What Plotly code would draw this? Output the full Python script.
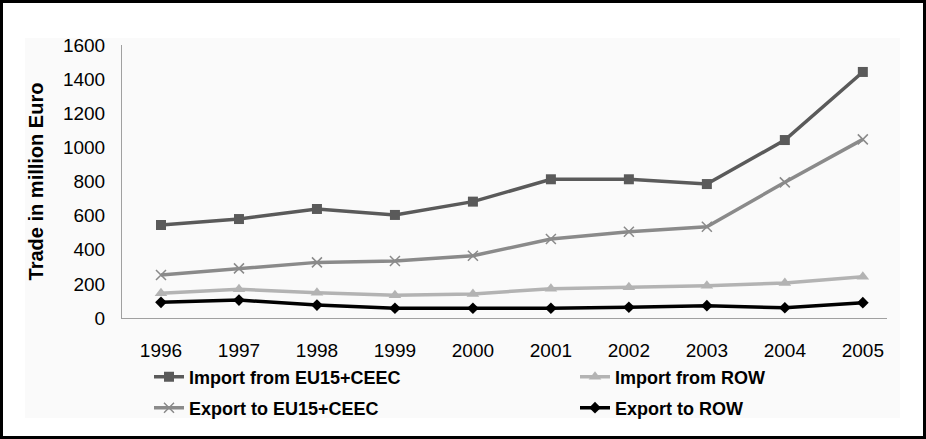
import plotly.graph_objects as go

years = ["1996", "1997", "1998", "1999", "2000", "2001", "2002", "2003", "2004", "2005"]
import_eu = [545, 580, 639, 604, 682, 813, 813, 785, 1043, 1442]
import_row = [145, 168, 148, 133, 141, 172, 180, 189, 205, 242]
export_eu = [252, 291, 326, 334, 365, 463, 506, 535, 795, 1047]
export_row = [92, 105, 76, 57, 57, 57, 63, 72, 60, 90]

W, H = 926, 439
L, R, T, B = 122, 887, 45, 318  # plot area in pixels


def px(x):
    return (x - L) / (R - L)


def py(y):
    return (B - y) / (B - T)


FONT = "Liberation Sans, Arial, sans-serif"

fig = go.Figure()
fig.add_trace(go.Scatter(x=years, y=import_eu, name="Import from EU15+CEEC", mode="lines+markers",
                         line=dict(color="#5a5a5a", width=3.5),
                         marker=dict(symbol="square", size=10, color="#5a5a5a"), legend="legend"))
fig.add_trace(go.Scatter(x=years, y=import_row, name="Import from ROW", mode="lines+markers",
                         line=dict(color="#b3b3b3", width=3.5),
                         marker=dict(symbol="triangle-up", size=11, color="#b3b3b3"), legend="legend2"))
fig.add_trace(go.Scatter(x=years, y=export_eu, name="Export to EU15+CEEC", mode="lines+markers",
                         line=dict(color="#8a8a8a", width=3.5),
                         marker=dict(symbol="x-thin", size=10, color="#8a8a8a",
                                     line=dict(color="#8a8a8a", width=1.5)), legend="legend3"))
fig.add_trace(go.Scatter(x=years, y=export_row, name="Export to ROW", mode="lines+markers",
                         line=dict(color="#000000", width=3.5),
                         marker=dict(symbol="diamond", size=9, color="#000000"), legend="legend4"))

legend_common = dict(orientation="h", xanchor="left", yanchor="middle",
                     font=dict(family=FONT, size=18, color="#000000", weight="bold"),
                     bgcolor="rgba(0,0,0,0)", borderwidth=0, visible=True,
                     itemclick=False, itemdoubleclick=False)

fig.update_layout(
    width=W, height=H,
    showlegend=True,
    margin=dict(l=L, r=W - R, t=T, b=H - B, pad=0),
    paper_bgcolor="#ffffff",
    plot_bgcolor="rgba(0,0,0,0)",
    font=dict(family=FONT, size=19, color="#000000"),
    xaxis=dict(type="category", range=[-0.5, 9.31], showgrid=False, showline=True,
               linecolor="#a0a0a0", linewidth=1, ticks="", ticklabelstandoff=15,
               tickfont=dict(size=19), zeroline=False, fixedrange=True),
    yaxis=dict(range=[0, 1600], dtick=200, showgrid=False, showline=True,
               linecolor="#a0a0a0", linewidth=1, ticks="", ticklabelstandoff=12,
               tickfont=dict(size=19), zeroline=False, fixedrange=True,
               title=dict(text="Trade in million Euro", standoff=13,
                          font=dict(size=20, weight="bold"))),
    legend=dict(x=px(149), y=py(377), **legend_common),
    legend2=dict(x=px(575), y=py(377), **legend_common),
    legend3=dict(x=px(149), y=py(408), **legend_common),
    legend4=dict(x=px(575), y=py(408), **legend_common),
    shapes=[
        dict(type="rect", xref="paper", yref="paper", x0=px(25), x1=px(900), y0=py(418), y1=py(38),
             fillcolor="#fafafa", line=dict(width=0), layer="below"),
        dict(type="rect", xref="paper", yref="paper", x0=px(1.5), x1=px(924.5), y0=py(437.5), y1=py(1.5),
             fillcolor="rgba(0,0,0,0)", line=dict(color="#000000", width=3), layer="above"),
    ],
)

fig.write_html("out.html", config={"displayModeBar": False},
               post_script="document.body.style.margin='0';document.body.style.overflow='hidden';")
